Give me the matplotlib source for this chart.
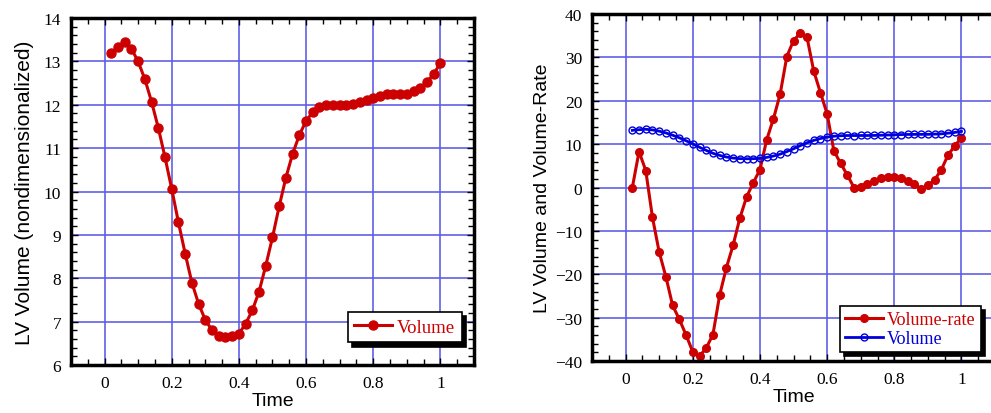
import numpy as np
import matplotlib
matplotlib.use("Agg")
import matplotlib.pyplot as plt
from matplotlib.ticker import MultipleLocator

time = [round(0.02 * i, 2) for i in range(1, 51)]
volume = [13.19, 13.34, 13.44, 13.29, 13.00, 12.59, 12.07, 11.47, 10.79, 10.06,
          9.29, 8.57, 7.90, 7.41, 7.04, 6.80, 6.66, 6.64, 6.66, 6.72,
          6.95, 7.26, 7.69, 8.29, 8.94, 9.66, 10.32, 10.87, 11.30, 11.63,
          11.83, 11.94, 12.00, 11.99, 12.00, 12.00, 12.02, 12.06, 12.11, 12.16,
          12.21, 12.24, 12.26, 12.26, 12.26, 12.32, 12.38, 12.53, 12.71, 12.96]
volume_rate = [0.0, 8.3, 3.9, -6.9, -14.9, -20.6, -27.2, -30.4, -34.0, -37.9,
               -38.9, -37.0, -33.9, -24.8, -18.5, -13.3, -7.1, -2.2, 1.1, 4.1,
               11.0, 15.8, 21.5, 30.2, 33.9, 35.6, 34.7, 26.9, 21.9, 17.0,
               8.5, 5.6, 2.9, 0.0, 0.2, 0.8, 1.4, 2.1, 2.4, 2.5,
               2.1, 1.5, 0.8, -0.3, 0.5, 1.8, 4.1, 7.5, 9.6, 11.5]
xtick_vals = [0, 0.2, 0.4, 0.6, 0.8, 1.0]
xtick_labels = ["0", "0.2", "0.4", "0.6", "0.8", "1"]

RED = "#CC0000"
BLUE = "#0000DD"
GRID = "#5C5CE6"
serif = ["Liberation Serif", "DejaVu Serif"]
sans = ["Liberation Sans", "DejaVu Sans"]

fig = plt.figure(figsize=(9.91, 4.14), dpi=100)
ax1 = fig.add_axes([0.0716, 0.116, 0.4067, 0.838])
ax2 = fig.add_axes([0.5974, 0.1256, 0.4067, 0.838])


def style(ax, ylim, ymaj, ymin, right=True):
    ax.set_xlim(-0.1, 1.1)
    ax.set_ylim(*ylim)
    ax.xaxis.set_minor_locator(MultipleLocator(0.05))
    ax.yaxis.set_major_locator(MultipleLocator(ymaj))
    ax.yaxis.set_minor_locator(MultipleLocator(ymin))
    ax.set_xticks(xtick_vals)
    ax.set_xticklabels(xtick_labels)
    ax.grid(True, which="major", color=GRID, lw=1.3, alpha=0.9)
    ax.set_axisbelow(True)
    ax.tick_params(which="both", direction="in", top=True, right=right,
                   labelsize=12.5, width=1.0, colors="black")
    ax.tick_params(which="major", length=5)
    ax.tick_params(which="minor", length=4)
    for lab in ax.get_xticklabels() + ax.get_yticklabels():
        lab.set_fontfamily(serif)
    ax.tick_params(axis="x", pad=7)
    ax.tick_params(axis="y", pad=7)
    for s in ax.spines.values():
        s.set_linewidth(2.5)
    ax.set_xlabel("Time", fontsize=14, family=sans, labelpad=1)


# Left panel
ax1.plot(time, volume, color=RED, lw=2.2, marker="o", ms=6.5,
         mfc=RED, mec=RED, label="Volume")
style(ax1, (6, 14), 1, 0.2)
ax1.set_ylabel("LV Volume (nondimensionalized)", fontsize=15, family=sans,
               labelpad=7)
leg1 = ax1.legend(loc="lower right", bbox_to_anchor=(0.97, 0.065),
                  prop={"family": serif, "size": 13.5}, fancybox=False,
                  edgecolor="black", framealpha=1, handlelength=2.0,
                  borderpad=0.35, handletextpad=0.3, borderaxespad=0,
                  shadow={"color": "black", "alpha": 1, "ox": 3, "oy": -3})
leg1.get_frame().set_linewidth(1.2)
for t in leg1.get_texts():
    t.set_color(RED)

# Right panel
ax2.plot(time, volume_rate, color=RED, lw=2.2, marker="o", ms=5.5,
         mfc=RED, mec=RED, label="Volume-rate")
ax2.plot(time, volume, color=BLUE, lw=2.0, marker="o", ms=5,
         mfc="none", mec=BLUE, mew=1.0, label="Volume")
style(ax2, (-40, 40), 10, 2, right=False)
ax2.set_ylabel("LV Volume and Volume-Rate", fontsize=14, family=sans,
               labelpad=3)
leg2 = ax2.legend(loc="lower right", bbox_to_anchor=(0.965, 0.025),
                  prop={"family": serif, "size": 13}, fancybox=False,
                  edgecolor="black", framealpha=1, handlelength=2.1,
                  borderpad=0.3, handletextpad=0.2, borderaxespad=0,
                  labelspacing=0.1,
                  shadow={"color": "black", "alpha": 1, "ox": 3, "oy": -3})
leg2.get_frame().set_linewidth(1.2)
for t, c in zip(leg2.get_texts(), [RED, BLUE]):
    t.set_color(c)

fig.savefig("out.png", dpi=100)
